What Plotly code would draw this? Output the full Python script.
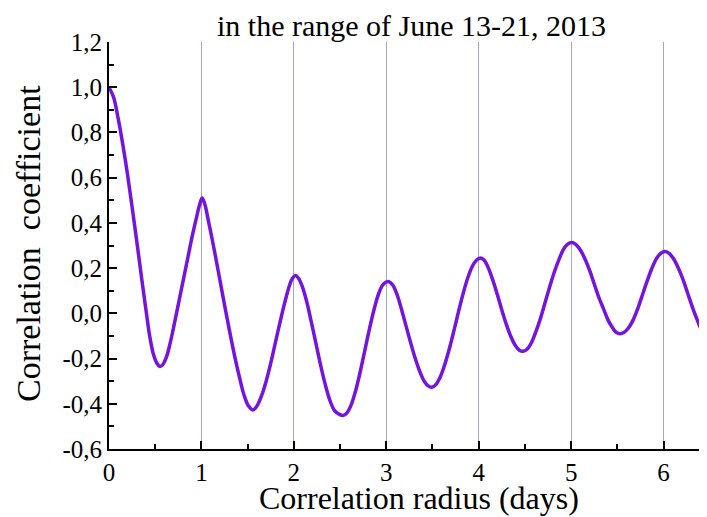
import plotly.graph_objects as go

# Correlation radius (days)
lag = [0.00, 0.05, 0.10, 0.15, 0.20, 0.25, 0.30, 0.35, 0.40, 0.44, 0.48, 0.52,
       0.55, 0.58, 0.62, 0.66, 0.70, 0.75, 0.80, 0.85, 0.90, 0.95, 0.98,
       1.007, 1.035, 1.07, 1.11, 1.16, 1.21, 1.26, 1.31, 1.36, 1.41, 1.46, 1.51,
       1.558, 1.60, 1.65, 1.70, 1.75, 1.80, 1.85, 1.90, 1.95, 1.985,
       2.017, 2.05, 2.09, 2.14, 2.19, 2.24, 2.29, 2.34, 2.39, 2.44, 2.49,
       2.532, 2.575, 2.62, 2.67, 2.72, 2.77, 2.82, 2.87, 2.92, 2.97,
       3.03, 3.07, 3.11, 3.16, 3.21, 3.26, 3.31, 3.36, 3.41, 3.45,
       3.49, 3.53, 3.58, 3.63, 3.68, 3.73, 3.78, 3.83, 3.88, 3.93, 3.975,
       4.02, 4.06, 4.10, 4.15, 4.20, 4.25, 4.30, 4.35, 4.40, 4.44,
       4.48, 4.52, 4.57, 4.62, 4.67, 4.72, 4.77, 4.82, 4.87, 4.92, 4.96,
       5.005, 5.05, 5.10, 5.15, 5.20, 5.25, 5.30, 5.35, 5.40, 5.45, 5.49,
       5.53, 5.57, 5.62, 5.67, 5.72, 5.77, 5.82, 5.87, 5.92, 5.97,
       6.014, 6.06, 6.11, 6.16, 6.21, 6.26, 6.31, 6.36, 6.41, 6.47]

# Correlation coefficient
corr = [1.00, 0.955, 0.86, 0.745, 0.615, 0.47, 0.32, 0.165, 0.015, -0.10, -0.18, -0.222,
        -0.235, -0.228, -0.195, -0.135, -0.06, 0.04, 0.14, 0.24, 0.34, 0.43, 0.48,
        0.51, 0.485, 0.42, 0.34, 0.235, 0.125, 0.015, -0.09, -0.19, -0.28, -0.36, -0.41,
        -0.427, -0.41, -0.365, -0.30, -0.22, -0.13, -0.04, 0.045, 0.12, 0.155,
        0.167, 0.155, 0.12, 0.05, -0.04, -0.135, -0.23, -0.315, -0.385, -0.43, -0.446,
        -0.452, -0.44, -0.405, -0.34, -0.255, -0.16, -0.065, 0.02, 0.09, 0.13,
        0.14, 0.125, 0.09, 0.025, -0.05, -0.125, -0.195, -0.255, -0.30, -0.32,
        -0.327, -0.318, -0.285, -0.23, -0.16, -0.08, 0.005, 0.085, 0.155, 0.207, 0.235,
        0.245, 0.235, 0.205, 0.15, 0.085, 0.015, -0.05, -0.105, -0.145, -0.163,
        -0.168, -0.16, -0.13, -0.08, -0.02, 0.05, 0.12, 0.185, 0.24, 0.285, 0.305,
        0.313, 0.305, 0.28, 0.24, 0.19, 0.13, 0.07, 0.02, -0.03, -0.065, -0.085,
        -0.09, -0.085, -0.065, -0.03, 0.02, 0.08, 0.14, 0.195, 0.24, 0.265,
        0.273, 0.265, 0.24, 0.20, 0.15, 0.09, 0.03, -0.025, -0.075, -0.125]

x_tickvals = [0, 1, 2, 3, 4, 5, 6]
x_ticktext = ["0", "1", "2", "3", "4", "5", "6"]
y_tickvals = [-0.6, -0.4, -0.2, 0.0, 0.2, 0.4, 0.6, 0.8, 1.0, 1.2]
y_ticktext = ["-0,6", "-0,4", "-0,2", "0,0", "0,2", "0,4", "0,6", "0,8", "1,0", "1,2"]

title_text = "in the range of June 13-21, 2013"
x_title = "Correlation radius (days)"
y_title = "Correlation\u00a0\u00a0coefficient"

FONT = "Liberation Serif, Times New Roman, serif"

fig = go.Figure()
fig.add_trace(go.Scatter(
    x=lag, y=corr, mode="lines",
    line=dict(color="#7414dc", width=3.5, shape="spline", smoothing=1.0),
    showlegend=False, hoverinfo="skip",
))

W, H = 707, 517
# the page body adds an 8px offset; compensate in the margins
OFF = 8
L, R, T, B = 109 - OFF, OFF, 42 - OFF, 68 + OFF

fig.update_layout(
    width=W, height=H,
    margin=dict(l=L, r=R, t=T, b=B),
    paper_bgcolor="white", plot_bgcolor="white",
    font=dict(family=FONT, color="black"),
    showlegend=False,
)

fig.update_xaxes(
    range=[0, 6.47],
    tickvals=x_tickvals, ticktext=x_ticktext,
    tickfont=dict(size=25, family=FONT, color="black"),
    ticks="inside", ticklen=8, tickwidth=2, tickcolor="black",
    minor=dict(ticks="inside", ticklen=5, tickwidth=2, tickcolor="black", dtick=0.5, tick0=0, showgrid=False),
    showline=True, linecolor="black", linewidth=2,
    showgrid=True, gridcolor="#a4a4cc", gridwidth=1,
    zeroline=False, mirror=False,
)
fig.update_yaxes(
    range=[-0.6, 1.2],
    tickvals=y_tickvals, ticktext=y_ticktext,
    tickfont=dict(size=25, family=FONT, color="black"),
    ticks="inside", ticklen=8, tickwidth=2, tickcolor="black",
    minor=dict(ticks="inside", ticklen=5, tickwidth=2, tickcolor="black", dtick=0.1, tick0=0, showgrid=False),
    showline=True, linecolor="black", linewidth=2,
    showgrid=False, zeroline=False, mirror=False,
)

pw = 598
ph = 407
x0, ybot = 109, 449  # plot-area origin in window pixels

fig.add_annotation(
    text=title_text, xref="paper", yref="paper",
    x=(411 - x0) / pw, y=(ybot - 25) / ph,
    xanchor="center", yanchor="middle", showarrow=False,
    font=dict(size=30, family=FONT, color="black"),
)
fig.add_annotation(
    text=x_title, xref="paper", yref="paper",
    x=(419 - x0) / pw, y=(ybot - 498) / ph,
    xanchor="center", yanchor="middle", showarrow=False,
    font=dict(size=32, family=FONT, color="black"),
)
fig.add_annotation(
    text=y_title, xref="paper", yref="paper",
    x=(28 - x0) / pw, y=(ybot - 244) / ph,
    xanchor="center", yanchor="middle", showarrow=False, textangle=-90,
    font=dict(size=34, family=FONT, color="black"),
)

fig.write_html("out.html")
